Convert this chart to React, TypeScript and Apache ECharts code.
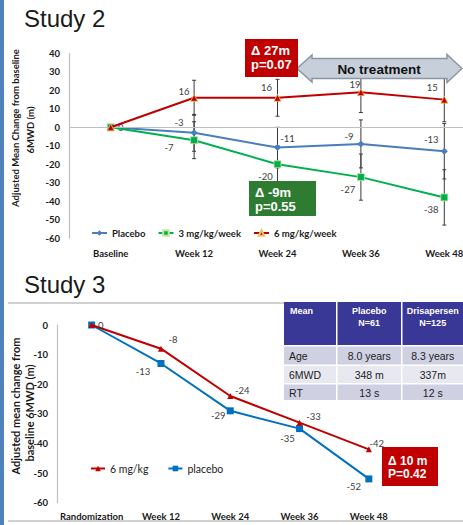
import React, { useEffect, useRef } from "react";
import * as echarts from "echarts";

// ---------- Study 2 data ----------
const study2Categories = ["Baseline", "Week 12", "Week 24", "Week 36", "Week 48"];
const study2Placebo = [0, -3, -11, -9, -13];
const study2Dose3 = [0, -7, -20, -27, -38];
const study2Dose6 = [0, 16, 16, 19, 15];
// half-widths of the error bars
const study2PlaceboErr = [0, 10, 11, 13, 15];
const study2Dose3Err = [0, 10, 10, 12.5, 15];
const study2Dose6Err = [0, 9.5, 10, 11, 12];
const study2Names = ["Placebo", "3 mg/kg/week", "6 mg/kg/week"];

// ---------- Study 3 data ----------
const study3Categories = ["Randomization", "Week 12", "Week 24", "Week 36", "Week 48"];
const study3Dose6 = [0, -8, -24, -33, -42];
const study3Placebo = [0, -13, -29, -35, -52];
const study3Names = ["6 mg/kg", "placebo"];

// ---------- Table ----------
const tableHeader = ["Mean", "Placebo\nN=61", "Drisapersen\nN=125"];
const tableRows = [
  ["Age", "8.0 years", "8.3 years"],
  ["6MWD", "348 m", "337m"],
  ["RT", "13 s", "12 s"],
];

// ---------- Annotations ----------
const study2Delta6 = ["Δ 27m", "p=0.07"];
const study2Delta3 = ["Δ -9m", "p=0.55"];
const study2NoTreatment = "No treatment";
const study3Delta = ["Δ 10 m", "P=0.42"];

// ---------- label offsets (style) ----------
const s2PlaceboOff: (number[] | null)[] = [[10, 0], [-15, -10], [10, -9], [-12, -7], [-13, -12]];
const s2Dose3Off: (number[] | null)[] = [null, [-25, 7], [-12, 12], [-13, 12], [-13, 12]];
const s2Dose6Off: (number[] | null)[] = [null, [-10, -6], [-11, -10], [-6, -8], [-12, -12]];
const s3Dose6Off: (number[] | null)[] = [[9, 0], [12, -9], [12, -6], [14, -6], [8, -6]];
const s3PlaceboOff: (number[] | null)[] = [null, [-18, 8], [-12, 5], [-12, 10], [-15, 8]];

const LABEL_FONT = "Lato";

function withLabels(values: number[], offs: (number[] | null)[]) {
  return values.map((v, i) => {
    const off = offs[i];
    return {
      value: v,
      label: off
        ? {
            show: true,
            position: "inside",
            offset: off,
            align: "center",
            verticalAlign: "middle",
            formatter: String(v),
            fontFamily: LABEL_FONT,
            fontSize: 9.5,
            color: "#404040",
          }
        : { show: false },
    };
  });
}

function errData(values: number[], errs: number[]) {
  const out: number[][] = [];
  values.forEach((v, i) => {
    if (errs[i] > 0) out.push([i, v - errs[i], v + errs[i]]);
  });
  return out;
}

function errorRender(params: any, api: any) {
  const x = api.value(0);
  const p1 = api.coord([x, api.value(1)]);
  const p2 = api.coord([x, api.value(2)]);
  const w = 2;
  const style = { stroke: "#3a3a3a", lineWidth: 1 };
  return {
    type: "group",
    children: [
      { type: "line", shape: { x1: p1[0], y1: p1[1], x2: p2[0], y2: p2[1] }, style },
      { type: "line", shape: { x1: p1[0] - w, y1: p1[1], x2: p1[0] + w, y2: p1[1] }, style },
      { type: "line", shape: { x1: p2[0] - w, y1: p2[1], x2: p2[0] + w, y2: p2[1] }, style },
    ],
  };
}

function txt(text: string, x: number, y: number, font: string, fill: string, align = "left", extra: any = {}) {
  return {
    type: "text",
    x,
    y,
    z: 60,
    ...extra,
    style: {
      text,
      font,
      fill,
      align,
      verticalAlign: "middle",
      textAlign: align,
      textVerticalAlign: "middle",
    },
  };
}

export default function App() {
  const ref = useRef<HTMLDivElement>(null);
  useEffect(() => {
    if (!ref.current) return;
    const chart = echarts.init(ref.current, null, { renderer: "svg" });

    const axisLabelBold = {
      fontFamily: LABEL_FONT,
      fontWeight: "bold",
      fontSize: 9.5,
      color: "#1a1a1a",
    };

    // table graphics
    const colX = [[284, 336], [337.5, 401], [402.5, 470]];
    const rowY = [[302, 345], [346.5, 364.5], [366, 383], [384.5, 400]];
    const rowFill = ["#3a3897", "#d0d0e3", "#e8e8f1", "#d0d0e3"];
    const tableEls: any[] = [];
    rowY.forEach((ry, r) => {
      colX.forEach((cx, c) => {
        tableEls.push({
          type: "rect",
          z: 55,
          shape: { x: cx[0], y: ry[0], width: cx[1] - cx[0], height: ry[1] - ry[0] },
          style: { fill: rowFill[r] },
        });
      });
    });
    tableHeader.forEach((h, c) => {
      const lines = h.split("\n");
      lines.forEach((ln, k) => {
        const x = c === 0 ? 290 : (colX[c][0] + Math.min(colX[c][1], 463)) / 2;
        tableEls.push(
          txt(ln, x, 310.5 + k * 12.5, "bold 9px 'Liberation Sans'", "#ffffff", c === 0 ? "left" : "center")
        );
      });
    });
    tableRows.forEach((row, r) => {
      const yc = (rowY[r + 1][0] + rowY[r + 1][1]) / 2 + 0.5;
      row.forEach((cell, c) => {
        const x = c === 0 ? 289 : (colX[c][0] + Math.min(colX[c][1], 463)) / 2;
        tableEls.push(txt(cell, x, yc, "10.5px 'Liberation Sans'", "#222222", c === 0 ? "left" : "center"));
      });
    });

    const option: any = {
      animation: false,
      backgroundColor: "#ffffff",
      grid: [
        { left: 69, top: 53.5, width: 417, height: 184.5 },
        { left: 57, top: 325, width: 346.5, height: 177.6 },
      ],
      xAxis: [
        {
          gridIndex: 0,
          type: "category",
          data: study2Categories,
          boundaryGap: true,
          axisLine: { show: false },
          axisTick: { show: false },
          axisLabel: { ...axisLabelBold, margin: 10, interval: 0 },
        },
        {
          gridIndex: 1,
          type: "category",
          data: study3Categories,
          boundaryGap: true,
          axisLine: { show: false },
          axisTick: { show: false },
          axisLabel: { ...axisLabelBold, margin: 9, interval: 0 },
        },
      ],
      yAxis: [
        {
          gridIndex: 0,
          type: "value",
          min: -60,
          max: 40,
          interval: 10,
          axisLine: { show: true, lineStyle: { color: "#bfbfbf", width: 1.2 } },
          axisTick: { show: false },
          splitLine: { show: false },
          axisLabel: { ...axisLabelBold, margin: 9 },
        },
        {
          gridIndex: 1,
          type: "value",
          min: -60,
          max: 0,
          interval: 10,
          axisLine: { show: true, lineStyle: { color: "#bfbfbf", width: 1.2 } },
          axisTick: { show: false },
          splitLine: { show: false },
          axisLabel: { ...axisLabelBold, margin: 9 },
        },
      ],
      legend: [
        {
          data: study2Names,
          left: 91,
          top: 228,
          padding: 0,
          itemWidth: 15,
          itemHeight: 7,
          itemGap: 12,
          textStyle: { fontFamily: LABEL_FONT, fontWeight: "bold", fontSize: 9.5, color: "#222" },
        },
        {
          data: study3Names,
          left: 90,
          top: 463,
          padding: 0,
          itemWidth: 14,
          itemHeight: 7,
          itemGap: 19,
          textStyle: { fontFamily: LABEL_FONT, fontSize: 10.5, color: "#222" },
        },
      ],
      series: [
        {
          type: "custom",
          xAxisIndex: 0,
          yAxisIndex: 0,
          silent: true,
          z: 1,
          renderItem: errorRender,
          encode: { x: 0, y: [1, 2] },
          data: [
            ...errData(study2Placebo, study2PlaceboErr),
            ...errData(study2Dose3, study2Dose3Err),
            ...errData(study2Dose6, study2Dose6Err),
          ],
        },
        {
          name: study2Names[0],
          type: "line",
          xAxisIndex: 0,
          yAxisIndex: 0,
          z: 3,
          symbol: "diamond",
          symbolSize: 7,
          color: "#4a7ebb",
          lineStyle: { width: 2, color: "#4a7ebb" },
          itemStyle: { color: "#4a7ebb" },
          data: withLabels(study2Placebo, s2PlaceboOff),
          markLine: {
            silent: true,
            symbol: "none",
            label: { show: false },
            lineStyle: { color: "#bfbfbf", width: 1.2, type: "solid" },
            data: [{ yAxis: 0 }],
          },
        },
        {
          name: study2Names[1],
          type: "line",
          xAxisIndex: 0,
          yAxisIndex: 0,
          z: 4,
          symbol: "rect",
          symbolSize: 7,
          color: "#00b050",
          lineStyle: { width: 2, color: "#00b050" },
          itemStyle: { color: "#00b050", borderColor: "#c6e59a", borderWidth: 0.8 },
          data: withLabels(study2Dose3, s2Dose3Off),
        },
        {
          name: study2Names[2],
          type: "line",
          xAxisIndex: 0,
          yAxisIndex: 0,
          z: 5,
          symbol: "triangle",
          symbolSize: 7,
          color: "#c00000",
          lineStyle: { width: 2, color: "#c00000" },
          itemStyle: { color: "#c00000", borderColor: "#e6c36a", borderWidth: 0.8 },
          data: withLabels(study2Dose6, s2Dose6Off),
        },
        {
          name: study3Names[0],
          type: "line",
          xAxisIndex: 1,
          yAxisIndex: 1,
          z: 4,
          symbol: "triangle",
          symbolSize: 6,
          color: "#c00000",
          lineStyle: { width: 2, color: "#c00000" },
          itemStyle: { color: "#c00000" },
          data: withLabels(study3Dose6, s3Dose6Off),
        },
        {
          name: study3Names[1],
          type: "line",
          xAxisIndex: 1,
          yAxisIndex: 1,
          z: 3,
          symbol: "rect",
          symbolSize: 7,
          color: "#0070c0",
          lineStyle: { width: 2, color: "#0070c0" },
          itemStyle: { color: "#0070c0" },
          data: withLabels(study3Placebo, s3PlaceboOff),
        },
      ],
      graphic: [
        { type: "rect", z: 50, shape: { x: 0, y: 0, width: 4, height: 525 }, style: { fill: "#4f81bd" } },
        txt("Study 2", 24, 18, "24px 'Liberation Sans'", "#1a1a1a"),
        txt("Study 3", 24, 284, "24px 'Liberation Sans'", "#1a1a1a"),
        txt("Adjusted Mean Change from baseline", 15, 128, "bold 9.5px Lato", "#1a1a1a", "center", {
          rotation: Math.PI / 2,
        }),
        txt("6MWD (m)", 30, 130, "bold 9.5px Lato", "#1a1a1a", "center", { rotation: Math.PI / 2 }),
        txt("Adjusted mean change from", 15, 406, "bold 11px Lato", "#1a1a1a", "center", {
          rotation: Math.PI / 2,
        }),
        txt("baseline 6MWD (m)", 29, 413, "bold 11px Lato", "#1a1a1a", "center", { rotation: Math.PI / 2 }),
        // No treatment arrow
        {
          type: "polygon",
          z: 50,
          shape: {
            points: [
              [297, 68.5],
              [312, 55],
              [312, 58.5],
              [447, 58.5],
              [447, 54.5],
              [462, 68.5],
              [447, 82.5],
              [447, 78.5],
              [312, 78.5],
              [312, 82],
            ],
          },
          style: { fill: "#c7d0da", stroke: "#8a96a4", lineWidth: 1.5 },
        },
        txt(study2NoTreatment, 379, 69, "bold 13.5px 'Liberation Sans'", "#111111", "center"),
        // red delta box (study 2)
        { type: "rect", z: 55, shape: { x: 245, y: 39, width: 53, height: 38 }, style: { fill: "#c00000" } },
        txt(study2Delta6[0], 251, 50, "bold 13px 'Liberation Sans'", "#ffffff"),
        txt(study2Delta6[1], 251, 64, "bold 13px 'Liberation Sans'", "#ffffff"),
        // green delta box
        { type: "rect", z: 55, shape: { x: 249, y: 181, width: 67, height: 35 }, style: { fill: "#2e7b32" } },
        txt(study2Delta3[0], 255, 192, "bold 13px 'Liberation Sans'", "#ffffff"),
        txt(study2Delta3[1], 255, 206, "bold 13px 'Liberation Sans'", "#ffffff"),
        // bottom panel frame lines
        { type: "line", z: 50, shape: { x1: 8, y1: 303, x2: 284, y2: 303 }, style: { stroke: "#c0c0c0", lineWidth: 1.5 } },
        { type: "line", z: 50, shape: { x1: 8, y1: 521, x2: 470, y2: 521 }, style: { stroke: "#c0c0c0", lineWidth: 1.5 } },
        ...tableEls,
        // red delta box (study 3)
        { type: "rect", z: 55, shape: { x: 382, y: 447, width: 56, height: 39 }, style: { fill: "#c00000" } },
        txt(study3Delta[0], 388, 461, "bold 12px 'Liberation Sans'", "#ffffff"),
        txt(study3Delta[1], 388, 474, "bold 12px 'Liberation Sans'", "#ffffff"),
      ],
    };
    chart.setOption(option);
    return () => chart.dispose();
  }, []);
  return (
    <div
      style={{
        position: "absolute",
        left: 0,
        top: 0,
        width: 463,
        height: 525,
        overflow: "hidden",
        background: "#fff",
      }}
    >
      <div ref={ref} style={{ width: 500, height: 525 }} />
    </div>
  );
}
